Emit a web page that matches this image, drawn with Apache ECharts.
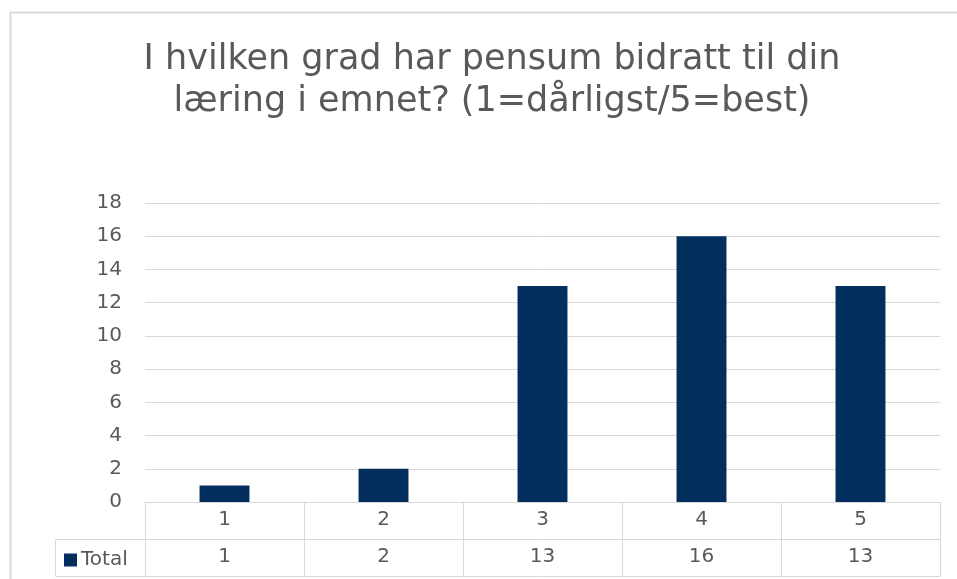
<!DOCTYPE html>
<html>
<head>
<meta charset="utf-8">
<script src="https://cdn.jsdelivr.net/npm/echarts@6/dist/echarts.min.js"></script>
<style>
	html, body { margin: 0; padding: 0; background: #fff; }
	#chart { width: 957px; height: 579px; }
</style>
</head>
<body>
<div id="chart"></div>
<script>
	var categories = ['1', '2', '3', '4', '5'];
	var totals = [1, 2, 13, 16, 13];
	var yTicks = { min: 0, max: 18, step: 2 };
	var seriesName = 'Total';
	var titleText = 'I hvilken grad har pensum bidratt til din\nlæring i emnet? (1=dårligst/5=best)';

	var font = 'DejaVu Sans';
	var textColor = '#595959';
	var lineColor = '#d9d9d9';
	var barColor = '#032f5f';
	var rowH = 37;

	var chart = echarts.init(document.getElementById('chart'));
	chart.setOption({
		animation: false,
		textStyle: { fontFamily: font },
		title: {
			text: titleText,
			left: 487,
			textAlign: 'center',
			top: 34,
			textStyle: { fontFamily: font, fontSize: 35, fontWeight: 'normal', color: textColor, lineHeight: 42 }
		},
		legend: {
			data: [seriesName],
			left: 59,
			top: 545,
			icon: 'rect',
			itemWidth: 13,
			itemHeight: 13,
			itemGap: 5,
			textStyle: { fontFamily: font, fontSize: 20, color: textColor, padding: [0, 0, 0, -1] }
		},
		grid: { left: 145, right: 17, top: 203, bottom: 77 },
		xAxis: [{
			type: 'category',
			data: categories,
			axisLine: { lineStyle: { color: lineColor } },
			axisTick: { show: true, length: rowH, lineStyle: { color: lineColor } },
			axisLabel: { fontFamily: font, fontSize: 20, color: textColor, margin: 8 }
		}, {
			type: 'category',
			data: categories,
			position: 'bottom',
			offset: rowH,
			axisLine: { lineStyle: { color: lineColor } },
			axisTick: { show: true, length: rowH, lineStyle: { color: lineColor } },
			axisLabel: {
				fontFamily: font, fontSize: 20, color: textColor, margin: 8,
				formatter: function (v, i) { return String(totals[i]); }
			}
		}, {
			type: 'category',
			data: categories,
			position: 'bottom',
			offset: rowH * 2,
			axisLine: { lineStyle: { color: lineColor } },
			axisTick: { show: false },
			axisLabel: { show: false }
		}],
		yAxis: {
			type: 'value',
			min: yTicks.min,
			max: yTicks.max,
			interval: yTicks.step,
			axisLine: { show: false },
			axisTick: { show: false },
			splitLine: { lineStyle: { color: lineColor, width: 1 } },
			axisLabel: { fontFamily: font, fontSize: 20, color: textColor, margin: 23 }
		},
		series: [{
			name: seriesName,
			type: 'bar',
			data: totals,
			barWidth: '31.4%',
			itemStyle: { color: barColor }
		}]
	});

	// table frame for the legend cell and the outer chart border
	var left = chart.convertToPixel({ xAxisIndex: 0 }, categories[0]);
	var band = chart.convertToPixel({ xAxisIndex: 0 }, categories[1]) - left;
	var x0 = Math.round(left - band / 2) + 0.5;
	var yBase = Math.round(chart.convertToPixel({ yAxisIndex: 0 }, 0)) + 0.5;
	var cellLeft = 55.5;
	var lineStyle = { stroke: lineColor, lineWidth: 1 };
	chart.setOption({
		graphic: [
			{ type: 'rect', shape: { x: 10.5, y: 12.5, width: 1200, height: 1200 }, style: { fill: 'none', stroke: lineColor, lineWidth: 2 }, silent: true },
			{ type: 'polyline', shape: { points: [[x0, yBase + rowH], [cellLeft, yBase + rowH], [cellLeft, yBase + rowH * 2], [x0, yBase + rowH * 2]] }, style: lineStyle, silent: true },
			{ type: 'line', shape: { x1: x0, y1: yBase, x2: x0, y2: yBase + rowH * 2 }, style: lineStyle, silent: true }
		]
	});
</script>
</body>
</html>
